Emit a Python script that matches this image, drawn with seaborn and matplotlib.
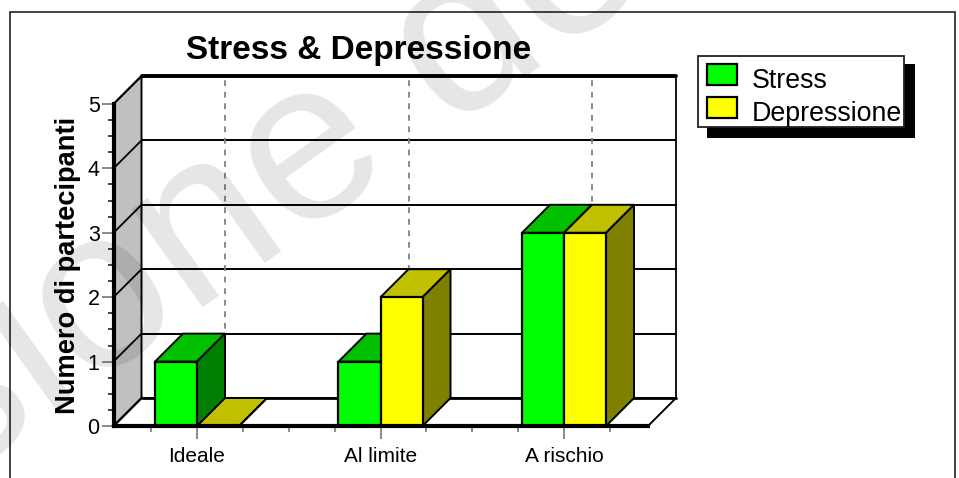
import matplotlib
matplotlib.use("Agg")
import matplotlib.pyplot as plt
from matplotlib.patches import Polygon, Rectangle
import pandas as pd
import seaborn as sns

# Survey results
categories = ["Ideale", "Al limite", "A rischio"]
stress = [1, 1, 3]
depressione = [0, 2, 3]
series_names = ["Stress", "Depressione"]

FACE = {"Stress": "#00ff00", "Depressione": "#ffff00"}
TOP = {"Stress": "#00c000", "Depressione": "#c0c000"}
SIDE = {"Stress": "#008000", "Depressione": "#808000"}

W, H = 959, 478
sns.set_theme(style="white", rc={"font.family": ["Liberation Sans", "DejaVu Sans"]})
fig = plt.figure(figsize=(W / 100, H / 100), dpi=100, facecolor="white")

# Front plane of the pseudo-3D plot box, in pixels
left, right, top, bottom = 113.5, 648, 104, 426
ax = fig.add_axes([left / W, 1 - bottom / H, (right - left) / W, (bottom - top) / H])
ax.patch.set_visible(False)

frame = pd.DataFrame({
    "categoria": categories * 2,
    "valore": stress + depressione,
    "serie": [series_names[0]] * 3 + [series_names[1]] * 3,
})
sns.barplot(data=frame, x="categoria", y="valore", hue="serie", order=categories,
            hue_order=series_names, palette=FACE, width=0.458, gap=0, dodge=True,
            saturation=1, edgecolor="black", linewidth=1.6, legend=False, ax=ax, zorder=3)

unit_x = 183.5
ax.set_xlim(-(197 - left) / unit_x, (right - 197) / unit_x)
ax.set_ylim(0, 5)
DX = 28 / unit_x
DY = 28 / ((bottom - top) / 5)
x0, x1 = ax.get_xlim()

# Left wall, floor and back wall
ax.add_patch(Polygon([(x0, 0), (x0 + DX, DY), (x0 + DX, 5 + DY), (x0, 5)], closed=True,
                     fc="#c0c0c0", ec="black", lw=1.4, clip_on=False, zorder=1))
ax.add_patch(Polygon([(x0, 0), (x1, 0), (x1 + DX, DY), (x0 + DX, DY)], closed=True,
                     fc="white", ec="black", lw=1.4, clip_on=False, zorder=0.8))
ax.plot([x1 + DX, x1 + DX], [DY, 5 + DY], color="black", lw=1.3, clip_on=False, zorder=1)
for level in range(0, 6):
    ax.plot([x0, x0 + DX], [level, level + DY], color="black", lw=1.3, clip_on=False, zorder=1.1)
    ax.plot([x0 + DX, x1 + DX], [level + DY] * 2, color="black",
            lw=2.8 if level == 5 else (2.0 if level == 0 else 1.4), clip_on=False, zorder=1.1)
for pos in range(len(categories)):
    ax.plot([pos + DX] * 2, [DY, 5 + DY], color="#808080", lw=1.3, ls=(0, (3.2, 3.2)),
            clip_on=False, zorder=1.2)

# Depth faces computed from the drawn bars
for container, name in zip(ax.containers, series_names):
    for bar in container:
        xa, w, h = bar.get_x(), bar.get_width(), bar.get_height()
        ax.add_patch(Polygon([(xa, h), (xa + w, h), (xa + w + DX, h + DY), (xa + DX, h + DY)],
                             closed=True, fc=TOP[name], ec="black", lw=1.4, clip_on=False, zorder=2))
        ax.add_patch(Polygon([(xa + w, 0), (xa + w + DX, DY), (xa + w + DX, h + DY), (xa + w, h)],
                             closed=True, fc=SIDE[name], ec="black", lw=1.4, clip_on=False, zorder=2))

# Axes and ticks
for side in ("top", "right"):
    ax.spines[side].set_visible(False)
for side in ("left", "bottom"):
    ax.spines[side].set_linewidth(3)
    ax.spines[side].set_color("black")
    ax.spines[side].set_zorder(4)
ax.set_xticks(range(len(categories)), categories)
ax.set_yticks(range(6))
ax.set_yticks([v / 4 for v in range(21) if v % 4 != 0], minor=True)
ax.set_xticks([v / 4 for v in range(-1, 10) if v % 4 != 0], minor=True)
ax.tick_params(axis="both", which="major", color="#808080", width=1.3, length=9,
               bottom=True, left=True)
ax.tick_params(axis="y", which="minor", color="#333333", width=1.3, length=4.5, left=True)
ax.tick_params(axis="x", which="minor", color="#808080", width=1.3, length=4.5, bottom=True)
ax.tick_params(axis="x", which="major", labelsize=15, labelcolor="black", pad=6)
ax.tick_params(axis="y", which="major", labelsize=15.5, labelcolor="black", pad=1)
ax.set_xlabel("")
ax.set_ylabel("")

fig.text(359 / W, 1 - 51 / H, "Stress & Depressione", fontsize=24, fontweight="bold",
         ha="center", va="center", color="black")
fig.text(68.5 / W, 1 - 265 / H, "Numero di partecipanti", fontsize=19.6, fontweight="bold",
         rotation=90, ha="center", va="center", color="black")

# Legend panel and its hard drop shadow
fig.add_artist(Rectangle((707 / W, 1 - 138 / H), 208 / W, 74 / H, transform=fig.transFigure,
                         fc="black", ec="none", zorder=1))
fig.add_artist(Rectangle((698 / W, 1 - 127 / H), 206 / W, 71 / H, transform=fig.transFigure,
                         fc="white", ec="#222222", lw=1.3, zorder=1.1))
handles = [Rectangle((0, 0), 1, 1, fc=FACE[n], ec="black", lw=1.6) for n in series_names]
legend = fig.legend(handles, series_names, loc="upper left",
                    bbox_to_anchor=(698 / W, 1 - 55 / H),
                    bbox_transform=fig.transFigure, borderaxespad=0, frameon=False, fontsize=19.3,
                    handlelength=1.15, handleheight=0.82, handletextpad=0.55, labelspacing=0.265,
                    borderpad=0.32, labelcolor="black")
for label in legend.get_texts():
    label.set_position((0, -4))

# Outer frame, open at the lower edge of the image
fig.add_artist(Rectangle((10 / W, -0.05), 945 / W, 1.05 - 12.5 / H, transform=fig.transFigure,
                         fc="none", ec="#222222", lw=1.2))

# Translucent watermark lettering over the chart
fig.text(270 / W, 1 - 186 / H, "sione de", fontsize=165, color="black",
         alpha=0.1, rotation=35.5, ha="center", va="center", zorder=10, rotation_mode="anchor")

fig.savefig("out.png", dpi=100)
